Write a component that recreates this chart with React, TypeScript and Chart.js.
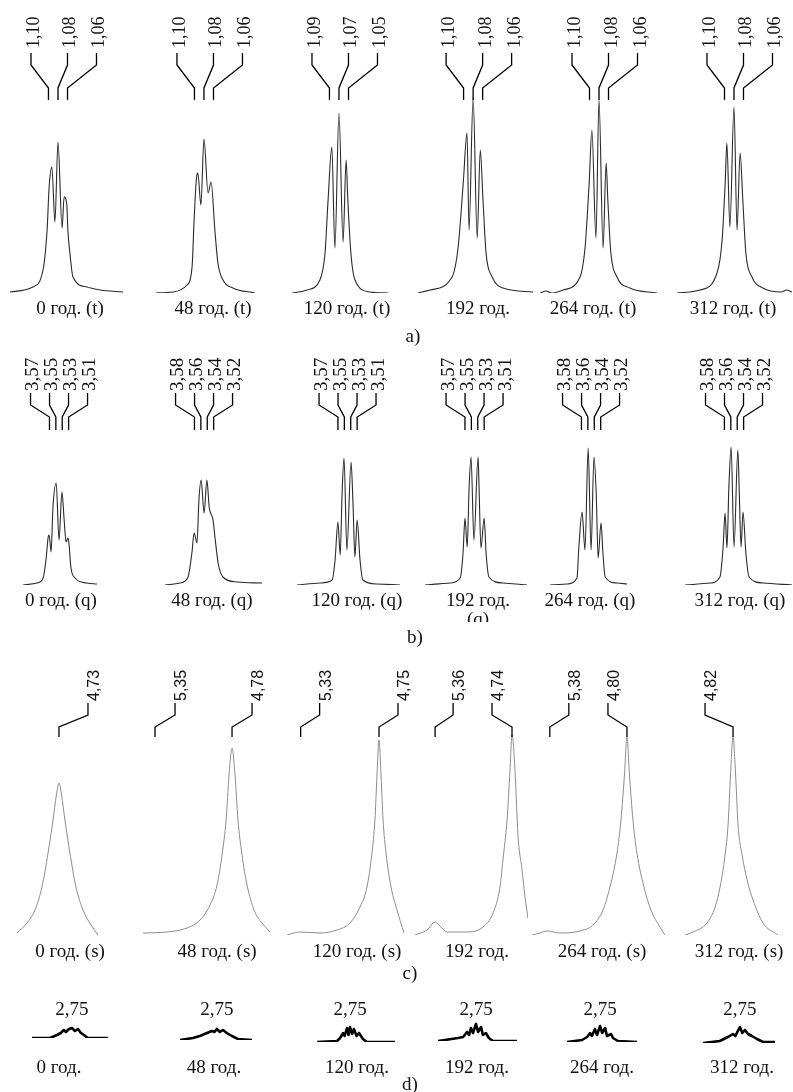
import React, { useEffect, useRef } from "react";
import { Chart, registerables } from "chart.js";

Chart.register(...registerables);

// ===================== DATA =====================
const rowTags = ["a)", "b)", "c)", "d)"];

const captionsA = ["0 год. (t)", "48 год. (t)", "120 год. (t)", "192 год.", "264 год. (t)", "312 год. (t)"];
const captionsB = ["0 год. (q)", "48 год. (q)", "120 год. (q)", "192 год.\n(q)", "264 год. (q)", "312 год. (q)"];
const captionsC = ["0 год. (s)", "48 год. (s)", "120 год. (s)", "192 год.", "264 год. (s)", "312 год. (s)"];
const captionsD = ["0 год.", "48 год.", "120 год.", "192 год.", "264 год.", "312 год."];

// peak labels (ppm)
const peaksA = [
  [1.1, 1.08, 1.06], [1.1, 1.08, 1.06], [1.09, 1.07, 1.05],
  [1.1, 1.08, 1.06], [1.1, 1.08, 1.06], [1.1, 1.08, 1.06],
];
const peaksB = [
  [3.57, 3.55, 3.53, 3.51], [3.58, 3.56, 3.54, 3.52], [3.57, 3.55, 3.53, 3.51],
  [3.57, 3.55, 3.53, 3.51], [3.58, 3.56, 3.54, 3.52], [3.58, 3.56, 3.54, 3.52],
];
const peaksC = [[4.73], [5.35, 4.78], [5.33, 4.75], [5.36, 4.74], [5.38, 4.8], [4.82]];
const peaksD = [[2.75], [2.75], [2.75], [2.75], [2.75], [2.75]];

// spectra: [ppm, intensity (a.u.)]
const specA0: [number, number][] = [[1.221,1],[1.154,6],[1.124,23],[1.112,63],[1.106,106],[1.098,126],[1.089,71],[1.08,151],[1.068,65],[1.062,96],[1.054,88],[1.051,63],[1.045,40],[1.036,16],[0.995,6],[0.956,3],[0.889,1]];
const specA1: [number, number][] = [[1.221,0],[1.171,1],[1.13,8],[1.115,26],[1.109,73],[1.101,118],[1.098,120],[1.089,88],[1.08,154],[1.068,100],[1.059,111],[1.048,63],[1.039,30],[1.024,13],[0.995,5],[0.93,0]];
const specA2: [number, number][] = [[1.208,0],[1.164,3],[1.126,13],[1.111,40],[1.102,93],[1.091,146],[1.082,45],[1.07,180],[1.058,51],[1.049,133],[1.044,93],[1.035,40],[1.023,13],[0.979,1],[0.926,0]];
const specA3: [number, number][] = [[1.242,0],[1.206,3],[1.142,16],[1.124,46],[1.109,110],[1.098,160],[1.092,63],[1.08,195],[1.068,55],[1.059,143],[1.051,93],[1.042,40],[1.024,16],[0.992,5],[0.904,1]];
const specA4: [number, number][] = [[1.254,0],[1.236,2],[1.22,0],[1.186,3],[1.136,16],[1.121,46],[1.109,110],[1.101,163],[1.089,55],[1.08,193],[1.068,45],[1.059,130],[1.054,93],[1.045,40],[1.027,16],[0.989,5],[0.909,0]];
const specA5: [number, number][] = [[1.248,0],[1.18,3],[1.13,20],[1.115,53],[1.106,110],[1.101,150],[1.092,66],[1.08,186],[1.071,63],[1.062,140],[1.054,93],[1.045,40],[1.027,16],[0.995,5],[0.94,1],[0.925,3],[0.909,1]];

const specB0: [number, number][] = [[3.653,0],[3.609,2],[3.59,7],[3.581,25],[3.574,48],[3.571,50],[3.565,33],[3.559,78],[3.549,102],[3.54,45],[3.531,93],[3.524,65],[3.518,43],[3.512,47],[3.509,42],[3.503,18],[3.49,7],[3.453,2],[3.421,1]];
const specB1: [number, number][] = [[3.672,0],[3.625,2],[3.6,8],[3.588,32],[3.581,52],[3.572,42],[3.566,85],[3.559,105],[3.55,72],[3.541,105],[3.534,78],[3.522,65],[3.516,48],[3.506,22],[3.491,8],[3.447,3],[3.369,2]];
const specB2: [number, number][] = [[3.698,0],[3.626,2],[3.588,5],[3.579,25],[3.57,63],[3.563,30],[3.557,92],[3.551,127],[3.542,35],[3.529,123],[3.523,82],[3.517,28],[3.51,65],[3.501,25],[3.492,5],[3.448,1],[3.376,0]];
const specB3: [number, number][] = [[3.695,0],[3.617,2],[3.585,7],[3.576,32],[3.57,67],[3.563,38],[3.557,98],[3.551,128],[3.542,45],[3.529,128],[3.526,98],[3.52,37],[3.51,67],[3.504,32],[3.495,8],[3.451,2],[3.376,0]];
const specB4: [number, number][] = [[3.678,0],[3.625,1],[3.594,7],[3.588,38],[3.578,73],[3.569,35],[3.559,137],[3.55,35],[3.541,128],[3.534,92],[3.528,27],[3.519,62],[3.513,32],[3.506,8],[3.469,2],[3.438,1]];
const specB5: [number, number][] = [[3.703,0],[3.625,2],[3.594,8],[3.584,38],[3.578,72],[3.572,37],[3.566,98],[3.559,138],[3.55,38],[3.538,135],[3.534,98],[3.528,38],[3.522,73],[3.513,32],[3.503,8],[3.459,2],[3.369,0]];

const specC0: [number, number][] = [[5.041,2],[4.967,12],[4.908,25],[4.856,48],[4.811,82],[4.774,115],[4.749,140],[4.73,152],[4.711,140],[4.686,115],[4.649,82],[4.604,48],[4.552,25],[4.493,10],[4.441,0]];
const specC1: [number, number][] = [[5.439,2],[5.261,3],[5.113,7],[5.017,15],[4.943,30],[4.891,50],[4.854,80],[4.824,115],[4.802,160],[4.78,187],[4.758,160],[4.736,115],[4.706,80],[4.669,50],[4.617,25],[4.558,12],[4.499,3]];
const specC2: [number, number][] = [[5.431,0],[5.335,3],[5.187,2],[5.061,5],[4.965,12],[4.891,28],[4.839,48],[4.802,82],[4.78,115],[4.765,160],[4.75,195],[4.735,160],[4.72,115],[4.698,82],[4.661,48],[4.617,25],[4.565,2]];
const specC3: [number, number][] = [[5.522,0],[5.425,5],[5.361,13],[5.305,7],[5.264,3],[5.103,3],[4.974,8],[4.893,22],[4.837,48],[4.813,75],[4.78,115],[4.756,165],[4.74,200],[4.716,165],[4.692,100],[4.659,65],[4.635,38],[4.611,17]];
const specC4: [number, number][] = [[5.514,0],[5.454,2],[5.402,4],[5.304,2],[5.153,4],[5.056,10],[4.98,25],[4.928,48],[4.875,82],[4.845,115],[4.819,160],[4.8,198],[4.781,160],[4.755,115],[4.725,82],[4.672,48],[4.62,25],[4.552,8],[4.514,0]];
const specC5: [number, number][] = [[5.176,0],[5.116,3],[5.013,12],[4.953,28],[4.916,48],[4.879,80],[4.857,110],[4.839,160],[4.82,198],[4.801,160],[4.783,110],[4.753,80],[4.716,55],[4.672,35],[4.598,12],[4.487,0]];

const specD0: [number, number][] = [[2.883,0],[2.823,0],[2.8,3],[2.787,5],[2.777,8],[2.77,6],[2.76,9],[2.75,10],[2.74,7],[2.73,9],[2.72,5],[2.71,3],[2.697,0],[2.63,0]];
const specD1: [number, number][] = [[2.873,0],[2.83,2],[2.807,4],[2.783,7],[2.767,9],[2.758,8],[2.75,11],[2.74,8],[2.73,10],[2.717,7],[2.7,4],[2.68,1],[2.633,0]];
const specD2: [number, number][] = [[2.86,0],[2.793,1],[2.783,4],[2.773,9],[2.768,6],[2.76,14],[2.755,7],[2.75,15],[2.743,8],[2.737,13],[2.728,6],[2.72,9],[2.707,3],[2.693,0],[2.6,0]];
const specD3: [number, number][] = [[2.877,0],[2.81,3],[2.793,4],[2.78,9],[2.773,6],[2.767,13],[2.76,8],[2.75,17],[2.743,9],[2.733,14],[2.727,6],[2.717,8],[2.707,3],[2.693,0],[2.613,0]];
const specD4: [number, number][] = [[2.86,0],[2.81,2],[2.793,5],[2.783,9],[2.777,6],[2.767,13],[2.76,7],[2.75,16],[2.743,9],[2.733,14],[2.727,6],[2.713,8],[2.707,4],[2.69,1],[2.627,0]];
const specD5: [number, number][] = [[2.873,0],[2.817,2],[2.79,6],[2.773,9],[2.765,7],[2.757,12],[2.75,16],[2.742,10],[2.733,13],[2.723,9],[2.71,7],[2.693,4],[2.673,1],[2.633,1]];

// ===================== LAYOUT / STYLE =====================
const PAGE_W = 793;
const PAGE_H = 1092;
const SERIF = '"Liberation Serif", "Times New Roman", serif';
const SANS = '"Liberation Sans", Arial, sans-serif';
const INK = "#111";

type Row = {
  specs: [number, number][][];
  captions: string[];
  peaks: number[][];
  extents: [number, number][];
  baseline: number[];
  yMax: number;
  color: string;
  width: number;
  smooth: boolean;
  kind: "fan" | "single" | "plain";
  labelFont: string;
  capX: number[];
  capBase: number;
  capClip?: number;
  tagX: number;
  tagBase: number;
  // leader geometry
  spread?: number;
  topOff?: number[];
  singleOff?: number[][];
  textShift?: number;
  yText?: number;
  yTop?: number;
  yBend1?: number;
  yBend2?: number;
  yBottom?: number;
  labelBase?: number;
};

const ROWS: Row[] = [
  {
    specs: [specA0, specA1, specA2, specA3, specA4, specA5],
    captions: captionsA,
    peaks: peaksA,
    extents: [[10, 123], [156, 255], [292, 388], [418, 533], [540, 657], [677, 792]],
    baseline: [293, 293, 293, 293, 293, 293],
    yMax: 200,
    color: "#2b2b2b",
    width: 1.1,
    smooth: true,
    kind: "fan",
    labelFont: `18px ${SERIF}`,
    capX: [70, 213, 347, 478, 593, 733],
    capBase: 314,
    tagX: 413,
    tagBase: 342,
    spread: 1.4,
    topOff: [-27, 9.5, 38.5],
    textShift: 8,
    yText: 48,
    yTop: 53,
    yBend1: 65,
    yBend2: 88,
    yBottom: 100,
  },
  {
    specs: [specB0, specB1, specB2, specB3, specB4, specB5],
    captions: captionsB,
    peaks: peaksB,
    extents: [[23, 97], [165, 262], [297, 400], [425, 527], [550, 627], [685, 792]],
    baseline: [585, 585, 585, 585, 585, 585],
    yMax: 145,
    color: "#2b2b2b",
    width: 1.1,
    smooth: true,
    kind: "fan",
    labelFont: `19px ${SERIF}`,
    capX: [61, 212, 357, 478, 590, 740],
    capBase: 606,
    capClip: 622,
    tagX: 415,
    tagBase: 643,
    spread: 1.0,
    topOff: [-28.5, -9.5, 9.5, 28.5],
    textShift: 7.8,
    yText: 391,
    yTop: 393,
    yBend1: 405,
    yBend2: 417,
    yBottom: 430,
  },
  {
    specs: [specC0, specC1, specC2, specC3, specC4, specC5],
    captions: captionsC,
    peaks: peaksC,
    extents: [[17, 98], [143, 270], [287, 404], [415, 528], [532, 665], [685, 778]],
    baseline: [935, 935, 935, 935, 935, 935],
    yMax: 205,
    color: "#8c8c8c",
    width: 1,
    smooth: true,
    kind: "single",
    labelFont: `16px ${SANS}`,
    capX: [70, 217, 357, 477, 602, 739],
    capBase: 957,
    tagX: 410,
    tagBase: 979,
    singleOff: [[29], [20, 20], [19, 19], [18, -20], [19, -19], [-28]],
    textShift: 11,
    yText: 701,
    yTop: 703,
    yBend1: 715,
    yBend2: 727,
    yBottom: 737,
  },
  {
    specs: [specD0, specD1, specD2, specD3, specD4, specD5],
    captions: captionsD,
    peaks: peaksD,
    extents: [[32, 108], [180, 252], [317, 395], [438, 517], [567, 637], [703, 775]],
    baseline: [1038, 1040, 1042, 1041, 1042, 1043],
    yMax: 20,
    color: "#000",
    width: 2.6,
    smooth: false,
    kind: "plain",
    labelFont: `19px ${SERIF}`,
    capX: [59, 214, 357, 477, 602, 742],
    capBase: 1073,
    tagX: 410,
    tagBase: 1090,
    labelBase: 1015,
  },
];

const fmt = (v: number) => v.toFixed(2).replace(".", ",");

function makeDecor(row: Row, rowIdx: number, panelIdx: number) {
  return {
    id: `decor_${rowIdx}_${panelIdx}`,
    afterDraw(chart: any) {
      const ctx: CanvasRenderingContext2D = chart.ctx;
      const xs = chart.scales.x;
      const peaks = row.peaks[panelIdx];
      ctx.save();
      ctx.fillStyle = INK;
      ctx.strokeStyle = "#000";
      ctx.lineWidth = 1.3;
      ctx.lineJoin = "miter";

      const drawVText = (txt: string, x: number, yb: number) => {
        ctx.save();
        ctx.translate(x, yb);
        ctx.rotate(-Math.PI / 2);
        ctx.font = row.labelFont;
        ctx.textAlign = "left";
        ctx.textBaseline = "alphabetic";
        ctx.fillText(txt, 0, 0);
        ctx.restore();
      };

      if (row.kind === "fan") {
        const px = peaks.map((p) => xs.getPixelForValue(p));
        const c = px.reduce((s, v) => s + v, 0) / px.length;
        peaks.forEach((p, i) => {
          const bx = c + (px[i] - c) * (row.spread as number);
          const tx = c + (row.topOff as number[])[i];
          ctx.beginPath();
          ctx.moveTo(tx, row.yTop as number);
          ctx.lineTo(tx, row.yBend1 as number);
          ctx.lineTo(bx, row.yBend2 as number);
          ctx.lineTo(bx, row.yBottom as number);
          ctx.stroke();
          drawVText(fmt(p), tx + (row.textShift as number), row.yText as number);
        });
      } else if (row.kind === "single") {
        peaks.forEach((p, i) => {
          const bx = xs.getPixelForValue(p);
          const tx = bx + (row.singleOff as number[][])[panelIdx][i];
          ctx.beginPath();
          ctx.moveTo(tx, row.yTop as number);
          ctx.lineTo(tx, row.yBend1 as number);
          ctx.lineTo(bx, row.yBend2 as number);
          ctx.lineTo(bx, row.yBottom as number);
          ctx.stroke();
          drawVText(fmt(p), tx + (row.textShift as number), row.yText as number);
        });
      } else {
        ctx.font = row.labelFont;
        ctx.textAlign = "center";
        ctx.textBaseline = "alphabetic";
        peaks.forEach((p) => {
          ctx.fillText(fmt(p), xs.getPixelForValue(p), row.labelBase as number);
        });
      }

      // caption
      ctx.save();
      if (row.capClip) {
        ctx.beginPath();
        ctx.rect(0, 0, PAGE_W, row.capClip);
        ctx.clip();
      }
      ctx.font = `19px ${SERIF}`;
      ctx.textAlign = "center";
      ctx.textBaseline = "alphabetic";
      row.captions[panelIdx].split("\n").forEach((line, li) => {
        ctx.fillText(line, row.capX[panelIdx], row.capBase + li * 19);
      });
      ctx.restore();

      if (panelIdx === 0) {
        ctx.font = `19px ${SERIF}`;
        ctx.textAlign = "center";
        ctx.textBaseline = "alphabetic";
        ctx.fillText(rowTags[rowIdx], row.tagX, row.tagBase);
      }
      ctx.restore();
    },
  };
}

function PanelChart({ rowIdx, panelIdx }: { rowIdx: number; panelIdx: number }) {
  const ref = useRef<HTMLCanvasElement | null>(null);
  useEffect(() => {
    const row = ROWS[rowIdx];
    const spec = row.specs[panelIdx];
    const xsVals = spec.map((d) => d[0]);
    const [left, right] = row.extents[panelIdx];
    const base = row.baseline[panelIdx];
    const chart = new Chart(ref.current as HTMLCanvasElement, {
      type: "line",
      data: {
        datasets: [
          {
            data: spec.map(([x, y]) => ({ x, y })),
            borderColor: row.color,
            borderWidth: row.width,
            pointRadius: 0,
            fill: false,
            tension: row.smooth ? 0.4 : 0,
            cubicInterpolationMode: row.smooth ? "monotone" : "default",
            borderJoinStyle: "round",
            borderCapStyle: "round",
          } as any,
        ],
      },
      options: {
        animation: false,
        responsive: false,
        maintainAspectRatio: false,
        devicePixelRatio: 1,
        events: [],
        layout: {
          padding: {
            left,
            right: PAGE_W - right,
            top: base - row.yMax,
            bottom: PAGE_H - base,
          },
        },
        scales: {
          x: {
            type: "linear",
            reverse: true,
            min: Math.min(...xsVals),
            max: Math.max(...xsVals),
            display: false,
          },
          y: { type: "linear", min: 0, max: row.yMax, display: false },
        },
        plugins: { legend: { display: false }, tooltip: { enabled: false } },
      },
      plugins: [makeDecor(row, rowIdx, panelIdx)],
    });
    return () => chart.destroy();
  }, [rowIdx, panelIdx]);
  return (
    <canvas
      ref={ref}
      width={PAGE_W}
      height={PAGE_H}
      style={{ position: "absolute", left: 0, top: 0, width: PAGE_W, height: PAGE_H }}
    />
  );
}

export default function App() {
  const items: { r: number; p: number }[] = [];
  ROWS.forEach((row, r) => row.specs.forEach((_, p) => items.push({ r, p })));
  return (
    <div
      style={{
        position: "absolute",
        left: 0,
        top: 0,
        width: PAGE_W,
        height: PAGE_H,
        background: "#fff",
        overflow: "hidden",
      }}
    >
      {items.map(({ r, p }) => (
        <PanelChart key={`${r}-${p}`} rowIdx={r} panelIdx={p} />
      ))}
    </div>
  );
}
